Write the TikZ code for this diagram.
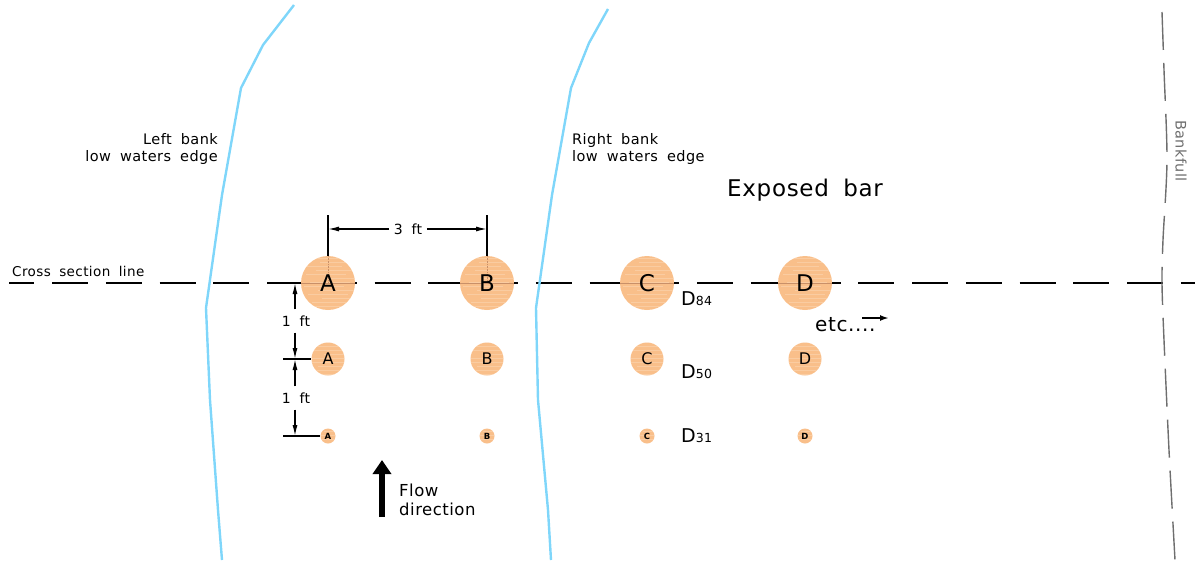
\documentclass[tikz,border=0pt]{standalone}
\usepackage{fontspec}
\setmainfont{DejaVu Sans}[WordSpace=1.8,LetterSpace=3]
\usetikzlibrary{arrows.meta,calc}

\definecolor{grain}{HTML}{F9BF8A}
\definecolor{grainlight}{HTML}{FDDDBE}
\definecolor{grainline}{HTML}{C99068}
\definecolor{water}{HTML}{7FD6FA}
\definecolor{bankgray}{HTML}{6E6E6E}

\newcommand{\grainlines}{%
  \foreach \k/\l in {-25/-20,-21/-8,-17/-26,-13/-12,-9/-22,-5/-4,-1/-18,3/-24,7/-10,11/-20,15/-6,19/-16,23/-22}{%
    \draw[grainlight,line width=0.8pt,opacity=0.45]
      ($(path picture bounding box.center)+(\l,\k)$) -- ++(40,0);}}

\begin{document}
\begin{tikzpicture}[x=1pt,y=-1pt,
  stone/.style={circle,fill=grain,inner sep=0pt,text=black},
  big/.style={stone,minimum size=54pt,font=\fontsize{23}{23}\selectfont,
    path picture={\grainlines
      \draw[grainline,line width=0.5pt]
        ($(path picture bounding box.center)+(-27,0)$) -- ++(54,0);}},
  bigmarked/.style={stone,minimum size=54pt,font=\fontsize{23}{23}\selectfont,
    path picture={\grainlines
      \draw[grainline,line width=0.5pt]
        ($(path picture bounding box.center)+(-27,0)$) -- ++(54,0);
      \draw[grainline,line width=0.6pt,densely dotted]
        ($(path picture bounding box.center)+(0,-27)$) -- ++(0,27);}},
  mid/.style={stone,minimum size=33pt,font=\fontsize{16}{16}\selectfont,
    path picture={\grainlines}},
  small/.style={stone,minimum size=15pt,font=\bfseries\fontsize{8.5}{8.5}\selectfont,
    path picture={\grainlines}},
  xsline/.style={line width=1.4pt,dash pattern=on 36pt off 17.75pt,dash phase=10.75pt},
  bank/.style={water,line width=2.4pt,line join=round},
  bankfull/.style={bankgray,line width=1.4pt,dash pattern=on 38pt off 13pt},
  ext/.style={line width=1.3pt},
  dimarrow/.style={line width=1.3pt,-{Latex[length=11pt,width=5pt]}},
  label/.style={inner sep=0pt,font=\fontsize{14.5}{17}\selectfont},
  dimlabel/.style={inner xsep=4.5pt,inner ysep=6pt,font=\fontsize{14}{17}\selectfont},
  dlabel/.style={inner sep=0pt,anchor=base west,font=\fontsize{19}{19}\selectfont}
]
\useasboundingbox (0,0) rectangle (1195,560);

% cross section line
\coordinate (xsW) at (9,283);
\coordinate (xsE) at (1195,283);
\draw[xsline] (xsW) -- (xsE);
\node[label,anchor=base west,font=\fontsize{13.5}{17}\selectfont] (xslabel) at (12,276)
  {Cross section line};

% low water edges
\draw[bank] (294,5) -- (263,45) -- (241,88) -- (222,195) -- (206,308)
  -- (210,400) -- (218,510) -- (222,560);
\draw[bank] (608,9) -- (589,43) -- (571,88) -- (552,195) -- (536,308)
  -- (538,400) -- (548,510) -- (551,560);
\node[label,anchor=north east,align=right] (leftbank) at (218,133)
  {Left bank\\low waters edge};
\node[label,anchor=north west,align=left] (rightbank) at (572,133)
  {Right bank\\low waters edge};

% bankfull line
\draw[bankfull] plot[smooth] coordinates
  {(1162,12) (1164,70) (1167,160) (1163,240) (1162,283) (1164,340) (1169,450) (1175,560)};
\node[label,text=bankgray,rotate=-90] (bankfull) at (1181,151) {Bankfull};

\node[inner sep=0pt,anchor=base west,font=\fontsize{23}{23}\selectfont]
  (exposed) at (727,196) {Exposed bar};

% sampled grains: D84, D50 and D31 rows
\node[bigmarked] (A1) at (328,283) {A};
\node[bigmarked] (B1) at (487,283) {B};
\node[big] (C1) at (647,283) {C};
\node[big] (D1) at (805,283) {D};
\node[mid] (A2) at (328,359) {A};
\node[mid] (B2) at (487,359) {B};
\node[mid] (C2) at (647,359) {C};
\node[mid] (D2) at (805,359) {D};
\node[small] (A3) at (328,436) {A};
\node[small] (B3) at (487,436) {B};
\node[small] (C3) at (647,436) {C};
\node[small] (D3) at (805,436) {D};

\node[dlabel] (d84) at (681,305) {D{\fontsize{12.5}{12.5}\selectfont 84}};
\node[dlabel] (d50) at (681,378) {D{\fontsize{12.5}{12.5}\selectfont 50}};
\node[dlabel] (d31) at (681,442) {D{\fontsize{12.5}{12.5}\selectfont 31}};

% spacing along the section
\coordinate (extA) at (328,215);
\coordinate (extB) at (487,215);
\draw[ext] (A1.north) -- (extA);
\draw[ext] (B1.north) -- (extB);
\node[dimlabel] (dim3) at (408,229) {3 ft};
\draw[dimarrow] (dim3.west) -- (A1.north |- dim3.west);
\draw[dimarrow] (dim3.east) -- (B1.north |- dim3.east);

% spacing between rows
\coordinate (r0) at (295,283);
\coordinate (r1) at (295,359);
\coordinate (r2) at (295,436);
\coordinate (t1) at (283,359);
\coordinate (t2) at (283,436);
\draw[ext] (t1) -- (A2.west);
\draw[ext] (t2) -- (A3.west);
\node[dimlabel,inner ysep=6pt] (ft1) at (296,321) {1 ft};
\node[dimlabel,inner ysep=6pt] (ft2) at (296,398) {1 ft};
\draw[dimarrow] (ft1.north -| r0) -- (r0);
\draw[dimarrow] (ft1.south -| r0) -- (r1);
\draw[dimarrow] (ft2.north -| r1) -- (r1);
\draw[dimarrow] (ft2.south -| r1) -- (r2);

% continuation
\node[inner sep=0pt,anchor=base west,font=\fontsize{20}{20}\selectfont]
  (etc) at (815,331) {etc....};
\coordinate (etcA) at (862,318);
\coordinate (etcB) at (889,318);
\draw[line width=1.8pt,-{Latex[length=9pt,width=6pt]}] (etcA) -- (etcB);

% flow direction
\coordinate (flowtail) at (382,517);
\coordinate (flowtip) at (382,460);
\draw[line width=6pt,-{Triangle[length=14pt,width=18pt]}] (flowtail) -- (flowtip);
\node[inner sep=0pt,anchor=north west,align=left,font=\fontsize{16.5}{19}\selectfont]
  (flow) at (399,484) {Flow\\direction};
\end{tikzpicture}
\end{document}
